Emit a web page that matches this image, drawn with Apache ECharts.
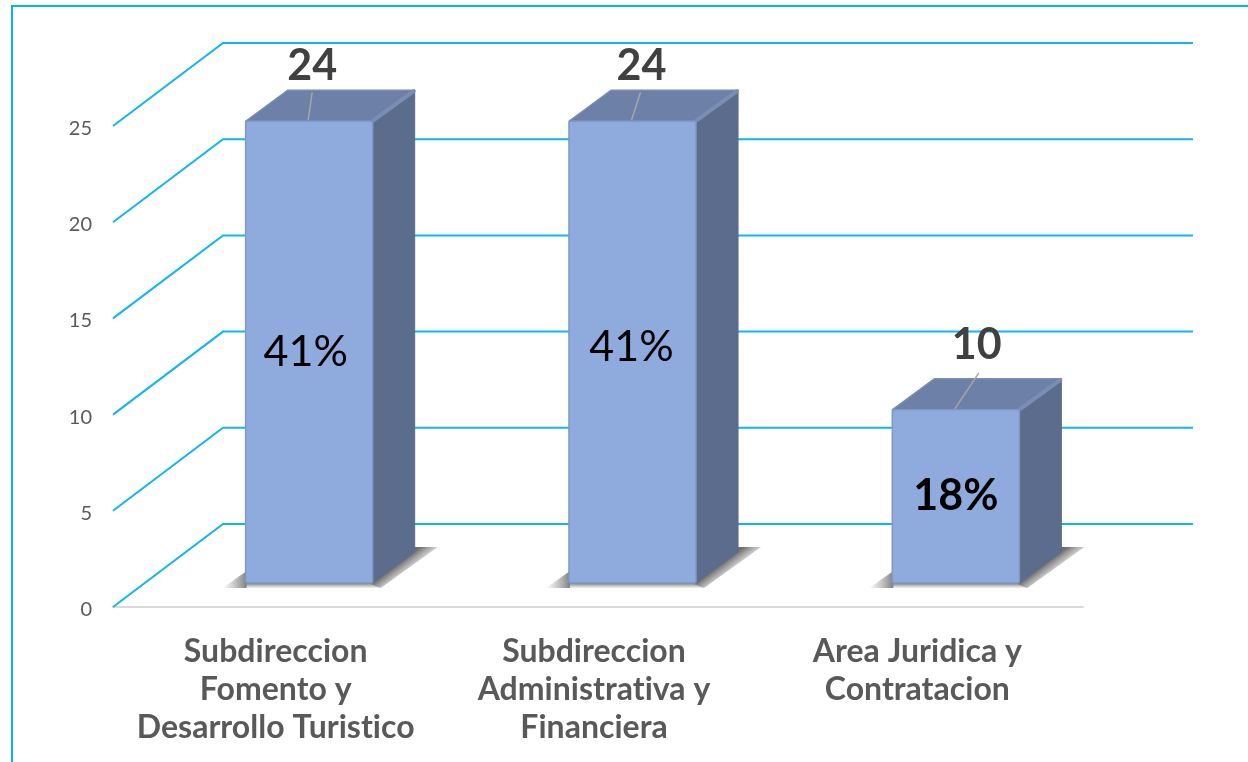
<!DOCTYPE html>
<html>
<head>
<meta charset="utf-8">
<style>html,body{margin:0;padding:0;background:#fff}#c{width:1248px;height:762px}</style>
<script src="https://cdn.jsdelivr.net/npm/echarts@6/dist/echarts.min.js"></script>
</head>
<body>
<div id="c"></div>
<script>
const categories = ['Subdireccion\nFomento y\nDesarrollo Turistico', 'Subdireccion\nAdministrativa y\nFinanciera', 'Area Juridica y\nContratacion'];
const barHeights = [24, 24, 9];
const countLabels = ['24', '24', '10'];
const shareLabels = ['41%', '41%', '18%'];
const shareWeights = ['normal', 'normal', 'bold'];
const yTicks = [0, 5, 10, 15, 20, 25];

// Layout offsets of the pseudo-3D look (pixels)
const wallDepth = [110, -83];
const barShift = [34.5, -24];
const barDepth = [42, -31];
const countLabelOffset = [[3, -55], [9, -55], [21, -65]];
const leaderTopOffset = [[3, -29], [8, -29], [23, -37]];
const shareLabelY = [352, 347, 496];
const shareLabelDx = [-3.5, -1, 0];
const categoryPadding = [[0, 0, 0, 2], [0, 8, 0, 0], [0, 8, 0, 0]];

const LINE = '#12B5EE';
const font = 'Lato, "Open Sans", sans-serif';

// The reference text has no "ti" ligature; a tiny letter spacing switches ligatures off.
const baseFillText = CanvasRenderingContext2D.prototype.fillText;
CanvasRenderingContext2D.prototype.fillText = function (...args) {
  this.letterSpacing = '0.02px';
  return baseFillText.apply(this, args);
};

function renderWall(params, api) {
  const cs = params.coordSys;
  const y = api.coord([0, api.value(1)])[1];
  const bx = cs.x + wallDepth[0], by = y + wallDepth[1];
  return {
    type: 'polyline',
    shape: { points: [[cs.x, y], [bx, by], [cs.x + cs.width + wallDepth[0], by]] },
    style: { stroke: LINE, lineWidth: 2, fill: null },
    silent: true
  };
}

function fade(x, y, x2, y2, dark) {
  return {
    type: 'linear', global: true, x: x, y: y, x2: x2, y2: y2,
    colorStops: [{ offset: 0, color: dark }, { offset: 1, color: 'rgba(170,170,170,0)' }]
  };
}

function renderBar(params, api) {
  const i = api.value(0);
  const p0 = api.coord([i, 0]);
  const p1 = api.coord([i, api.value(1)]);
  const half = api.size([1, 0])[0] * 0.1965;
  const x0 = p0[0] + barShift[0] - half, x1 = p0[0] + barShift[0] + half;
  const yb = p0[1] + barShift[1], yt = p1[1] + barShift[1];
  const dx = barDepth[0], dy = barDepth[1];
  const mid = p0[0] + barShift[0];
  const shadowRight = {
    type: 'polygon',
    shape: { points: [[x1 - 2, yb + 1], [x1 + dx, yb + dy - 5], [x1 + dx + 23, yb + dy - 5], [x1 + 8, yb + 5]] },
    style: { fill: fade(x1 + 21, yb - 15.5, x1 + 32, yb - 1, '#6f6f6f') }
  };
  const shadowBottom = {
    type: 'polygon',
    shape: { points: [[x0, yb], [x1, yb], [x1 + 8, yb + 5], [x0, yb + 5]] },
    style: { fill: fade(0, yb, 0, yb + 6, '#777777') }
  };
  const shadowLeft = {
    type: 'polygon',
    shape: { points: [[x0 + 1, yb - 12], [x0 + 1, yb + 5], [x0 - 23, yb + 5]] },
    style: { fill: fade(x0, yb, x0 - 24, yb, '#868686') }
  };
  const side = {
    type: 'polygon',
    shape: { points: [[x1, yt], [x1 + dx, yt + dy], [x1 + dx, yb + dy], [x1, yb]] },
    style: { fill: '#5C6C8C', stroke: '#5C6C8C', lineWidth: 1 }
  };
  const top = {
    type: 'polygon',
    shape: { points: [[x0, yt], [x0 + dx, yt + dy], [x1 + dx, yt + dy], [x1, yt]] },
    style: { fill: '#6D80A8', stroke: '#7A8BB0', lineWidth: 1.5, lineJoin: 'round' }
  };
  const bevel = {
    type: 'line',
    shape: { x1: x1 + 1, y1: yt - 1, x2: x1 + dx - 1, y2: yt + dy + 1 },
    style: { stroke: '#7A8DB5', lineWidth: 4, lineCap: 'round' }
  };
  const front = {
    type: 'rect',
    shape: { x: x0, y: yt, width: x1 - x0, height: yb - yt, r: 2 },
    style: { fill: '#8FAADC', stroke: '#7F98C8', lineWidth: 1.5 }
  };
  const leader = {
    type: 'line',
    shape: { x1: mid - 1, y1: yt - 1, x2: mid + leaderTopOffset[i][0], y2: yt + leaderTopOffset[i][1] },
    style: { stroke: '#A6A6A6', lineWidth: 1.5 }
  };
  const count = {
    type: 'text',
    style: {
      text: countLabels[i], x: mid + countLabelOffset[i][0], y: yt + countLabelOffset[i][1],
      fill: '#404040', font: 'bold 43px ' + font, align: 'center', verticalAlign: 'middle'
    }
  };
  const share = {
    type: 'text',
    style: {
      text: shareLabels[i], x: mid + shareLabelDx[i], y: shareLabelY[i],
      fill: '#000', font: shareWeights[i] + ' 43px ' + font, align: 'center', verticalAlign: 'middle'
    }
  };
  return { type: 'group', silent: true, children: [shadowRight, shadowBottom, shadowLeft, side, top, bevel, front, leader, count, share] };
}

const chart = echarts.init(document.getElementById('c'), null, { renderer: 'canvas' });
chart.setOption({
  animation: false,
  backgroundColor: '#fff',
  grid: { left: 113, right: 165, top: 126, bottom: 155 },
  xAxis: {
    type: 'category',
    data: categories.map((c, i) => ({ value: c, textStyle: { padding: categoryPadding[i] } })),
    axisTick: { show: false },
    axisLine: { show: true, lineStyle: { color: '#D9D9D9', width: 2 } },
    axisLabel: { color: '#595959', fontFamily: 'Lato', fontWeight: 'bold', fontSize: 32, lineHeight: 38, margin: 26, interval: 0 }
  },
  yAxis: {
    type: 'value', min: 0, max: 25, interval: 5,
    axisLine: { show: false }, axisTick: { show: false }, splitLine: { show: false },
    axisLabel: {
      margin: 21,
      formatter: '{v|{value}}',
      rich: { v: { color: '#595959', fontFamily: 'Lato', fontSize: 20, padding: [5, 0, 0, 0] } }
    }
  },
  graphic: [{
    type: 'polyline', silent: true,
    shape: { points: [[12, 762], [12, 6], [1248, 6]] },
    style: { stroke: '#00B4F5', lineWidth: 2, fill: null }
  }],
  series: [
    { type: 'custom', z: 1, clip: false, silent: true, renderItem: renderWall,
      encode: { x: 0, y: 1 }, data: yTicks.map(t => [0, t]) },
    { type: 'custom', z: 3, clip: false, silent: true, renderItem: renderBar,
      encode: { x: 0, y: 1 }, data: barHeights.map((v, i) => [i, v]) }
  ]
});
</script>
</body>
</html>
